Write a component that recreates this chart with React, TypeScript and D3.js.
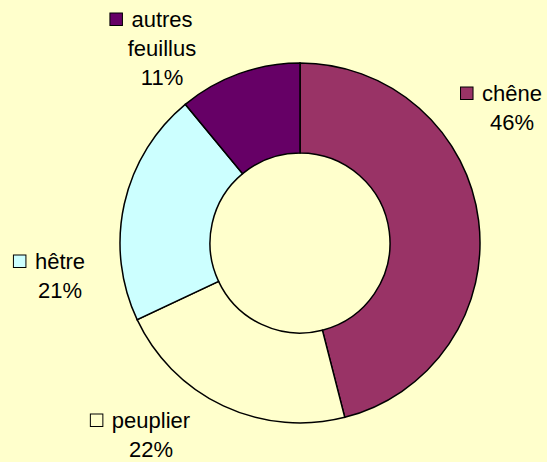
import React from 'react';
import * as d3 from 'd3';

const categories = ['chêne', 'peuplier', 'hêtre', 'autres feuillus'];
const values = [46, 22, 21, 11];
const colors = ['#993366', '#FFFFCC', '#CCFFFF', '#660066'];

// label layout: centre x of the text, baseline of first line
const labelPos = [
  { x: 512, y: 101, lines: ['chêne'] },
  { x: 151, y: 428, lines: ['peuplier'] },
  { x: 60, y: 269, lines: ['hêtre'] },
  { x: 162, y: 27, lines: ['autres', 'feuillus'] },
];

const width = 547;
const height = 462;
const fontSize = 22;
const font = `${fontSize}px 'Liberation Sans', Arial, sans-serif`;

const measure = (t: string) => {
  const ctx = document.createElement('canvas').getContext('2d');
  if (!ctx) return t.length * fontSize * 0.5;
  ctx.font = font;
  return ctx.measureText(t).width;
};

const App = () => {
  const cx = 300, cy = 243;
  const outerR = 180, innerR = 90;
  const lineH = 29;

  const pie = d3.pie<number>().sort(null).value(d => d)(values);
  const arc = d3.arc<d3.PieArcDatum<number>>().innerRadius(innerR).outerRadius(outerR);
  const total = d3.sum(values);

  return (
    <svg width={width} height={height} style={{ position: 'absolute', top: 0, left: 0 }}
      fontFamily="'Liberation Sans', Arial, sans-serif" fontSize={fontSize}>
      <rect width={width} height={height} fill="#FFFFCC" />
      <g transform={`translate(${cx},${cy})`}>
        {pie.map((p, i) => (
          <path key={categories[i]} d={arc(p) || ''} fill={colors[i]} stroke="#000" strokeWidth={1.5} />
        ))}
      </g>
      {labelPos.map((l, i) => {
        const lines = [...l.lines, `${Math.round(values[i] / total * 100)}%`];
        const firstW = measure(l.lines[0]);
        return (
          <g key={categories[i]}>
            <rect x={l.x - firstW / 2 - 21.5} y={l.y - 14} width={12.5} height={12.5}
              fill={colors[i]} stroke="#000" strokeWidth={1} />
            {lines.map((t, j) => (
              <text key={j} x={l.x} y={l.y + j * lineH} textAnchor="middle" fill="#000">{t}</text>
            ))}
          </g>
        );
      })}
    </svg>
  );
};

export default App;
